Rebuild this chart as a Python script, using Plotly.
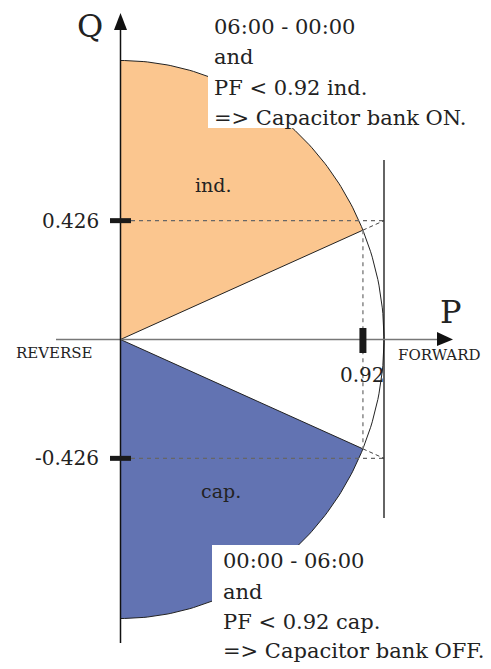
import numpy as np
import plotly.graph_objects as go

# power factor limit and the matching reactive power ratio
pf_limit = 0.92
q_limit = 0.426
q_tick_labels = ['0.426', '-0.426']
p_tick_labels = ['0.92']
region_labels = ['ind.', 'cap.']
top_lines = ['06:00 - 00:00', 'and', 'PF < 0.92 ind.', '=> Capacitor bank ON.']
bottom_lines = ['00:00 - 06:00', 'and', 'PF < 0.92 cap.', '=> Capacitor bank OFF.']

PAGE_W, PAGE_H = 491, 669
PAD = 8  # default body margin of the html page
# page pixel placement of the origin and the unit scale on each axis
OX, OY = 120.5, 339.5
SX, SY = 263.5, 279.0


def xd(px):
    return (px - OX) / SX


def yd(py):
    return (OY - py) / SY


ORANGE = '#FBC68F'
BLUE = '#6273B2'
SERIF = 'DejaVu Serif'

phi = np.arccos(pf_limit)
q_at_pf = np.sin(phi)

fig = go.Figure()

# ind. sector (upper) and cap. sector (lower)
t_up = np.linspace(phi, np.pi / 2, 80)
fig.add_trace(go.Scatter(
    x=np.r_[0, np.cos(t_up), 0], y=np.r_[0, np.sin(t_up), 0],
    fill='toself', fillcolor=ORANGE, mode='lines',
    line=dict(color='#222', width=1), hoverinfo='skip'))
t_dn = np.linspace(-np.pi / 2, -phi, 80)
fig.add_trace(go.Scatter(
    x=np.r_[0, np.cos(t_dn), 0], y=np.r_[0, np.sin(t_dn), 0],
    fill='toself', fillcolor=BLUE, mode='lines',
    line=dict(color='#222', width=1), hoverinfo='skip'))

# arc through the white wedge
t_mid = np.linspace(-phi, phi, 40)
fig.add_trace(go.Scatter(x=np.cos(t_mid), y=np.sin(t_mid), mode='lines',
                         line=dict(color='#222', width=1), hoverinfo='skip'))

# dashed guide lines
for s in (1, -1):
    fig.add_trace(go.Scatter(x=[xd(131), 1], y=[s * q_limit] * 2, mode='lines',
                             line=dict(color='#666', width=1.3, dash='4px,4px'),
                             hoverinfo='skip'))
    fig.add_trace(go.Scatter(x=[pf_limit, 1], y=[s * q_at_pf, s * q_limit], mode='lines',
                             line=dict(color='#444', width=1, dash='4px,3px'),
                             hoverinfo='skip'))
fig.add_trace(go.Scatter(x=[pf_limit, pf_limit], y=[q_at_pf, -q_at_pf], mode='lines',
                         line=dict(color='#888', width=1.5, dash='4px,4px'),
                         hoverinfo='skip'))

shapes = []
# P = 1 line
shapes.append(dict(type='line', x0=1, x1=1, y0=yd(160), y1=yd(518),
                   line=dict(color='#111', width=1.3)))
# axes
shapes.append(dict(type='line', x0=xd(56), x1=xd(440), y0=0, y1=0,
                   line=dict(color='#777', width=1.5)))
shapes.append(dict(type='line', x0=0, x1=0, y0=yd(643), y1=yd(28),
                   line=dict(color='#111', width=1.5)))
shapes.append(dict(type='path', fillcolor='#111', line=dict(width=0),
                   path=f'M {xd(437)},{yd(332)} L {xd(453)},0 L {xd(437)},{yd(346)} Z'))
shapes.append(dict(type='path', fillcolor='#111', line=dict(width=0),
                   path=f'M {xd(114)},{yd(30)} L 0,{yd(13)} L {xd(127)},{yd(30)} Z'))
# tick bars
for s in (1, -1):
    shapes.append(dict(type='line', x0=xd(110), x1=xd(131), y0=s * q_limit, y1=s * q_limit,
                       line=dict(color='#1a1a1a', width=5)))
shapes.append(dict(type='line', x0=pf_limit, x1=pf_limit, y0=yd(328), y1=yd(353),
                   line=dict(color='#1a1a1a', width=7)))
# white boxes behind the notes
shapes.append(dict(type='rect', layer='above', x0=xd(208), x1=xd(PAGE_W), y0=yd(0), y1=yd(128),
                   fillcolor='white', line=dict(width=0)))
shapes.append(dict(type='rect', layer='above', x0=xd(212), x1=xd(PAGE_W), y0=yd(545),
                   y1=yd(PAGE_H), fillcolor='white', line=dict(width=0)))

ann = []


def txt(x, y, s, size, xanchor='center', yanchor='middle'):
    ann.append(dict(x=x, y=y, text=s, showarrow=False, xanchor=xanchor, yanchor=yanchor,
                    font=dict(family=SERIF, size=size, color='#222')))


for s, lab in zip((1, -1), q_tick_labels):
    txt(xd(101), s * q_limit, lab, 20, xanchor='right')
txt(pf_limit, yd(375), p_tick_labels[0], 20)
txt(xd(213), yd(185), region_labels[0], 19)
txt(xd(221), yd(491), region_labels[1], 19)
txt(xd(90), yd(26), 'Q', 32)
txt(xd(451), yd(312), 'P', 32)
txt(xd(54), yd(353), 'REVERSE', 15)
txt(xd(439), yd(355), 'FORWARD', 15)

for yy, line in zip([27, 57, 88, 118], top_lines):
    txt(xd(212), yd(yy), line, 21, xanchor='left')
for yy, line in zip([561, 592, 622, 651], bottom_lines):
    txt(xd(221), yd(yy), line, 21, xanchor='left')

fig.update_layout(
    width=PAGE_W - PAD, height=PAGE_H - PAD, margin=dict(l=0, r=0, t=0, b=0),
    paper_bgcolor='white', plot_bgcolor='white', showlegend=False,
    shapes=shapes, annotations=ann,
    xaxis=dict(range=[xd(PAD), xd(PAGE_W)], visible=False, fixedrange=True),
    yaxis=dict(range=[yd(PAGE_H), yd(PAD)], visible=False, fixedrange=True),
)
fig.write_html('out.html')
